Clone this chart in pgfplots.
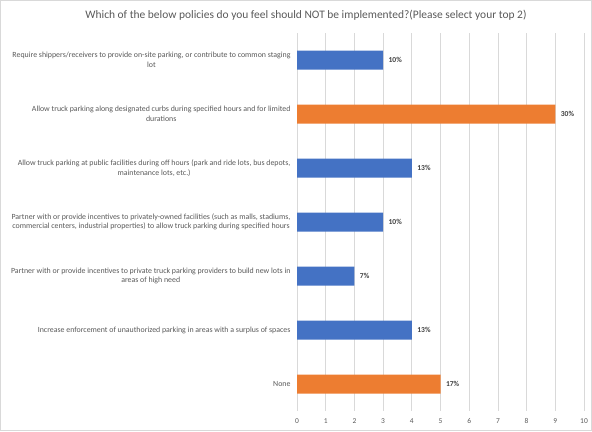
\documentclass[border=0pt]{standalone}
\usepackage{fontspec}
\setmainfont{Carlito}
\usepackage{pgfplots}
\pgfplotsset{compat=1.18}
\definecolor{barblue}{HTML}{4472C4}
\definecolor{barorange}{HTML}{ED7D31}
\definecolor{txtgray}{HTML}{595959}
\definecolor{lblgray}{HTML}{404040}
\definecolor{gridgray}{HTML}{D9D9D9}
\begin{document}
\begin{tikzpicture}[x=1bp,y=1bp]
\draw[gridgray, line width=0.6bp] (0.3,0.3) rectangle (591.7,430.7);
\useasboundingbox (0,0) rectangle (592,431);
\node[font=\fontsize{11.5}{13}\selectfont, text=txtgray] at (306,416) {Which of the below policies do you feel should NOT be implemented?(Please select your top 2)};
\begin{axis}[
  at={(297bp,20bp)}, anchor=south west,
  scale only axis, width=287bp, height=378bp,
  xmin=0, xmax=10, ymin=-0.5, ymax=6.5, y dir=reverse,
  xbar, bar width=19bp, bar shift=0pt,
  xtick={0,1,...,10}, ytick={0,1,...,6},
  yticklabels={
    {Require shippers/receivers to provide on-site parking, or contribute to common staging\\lot},
    {Allow truck parking along designated curbs during specified hours and for limited\\durations},
    {Allow truck parking at public facilities during off hours (park and ride lots, bus depots,\\maintenance lots, etc.)},
    {Partner with or provide incentives to privately-owned facilities (such as malls, stadiums,\\commercial centers, industrial properties) to allow truck parking during specified hours},
    {Partner with or provide incentives to private truck parking providers to build new lots in\\areas of high need},
    {Increase enforcement of unauthorized parking in areas with a surplus of spaces},
    {None}},
  xmajorgrids, grid style={gridgray, line width=0.7bp},
  axis line style={draw=none}, major tick length=0pt,
  /pgf/number format/assume math mode=true,
  tick label style={font=\fontsize{7.5}{9}\selectfont, text=txtgray},
  yticklabel style={font=\fontsize{7.9}{9.6}\selectfont, align=center, xshift=-3bp},
  xticklabel style={yshift=-4bp},
  nodes near coords={\pgfmathprintnumber{\pgfplotspointmeta}\%},
  nodes near coords style={font=\bfseries\fontsize{7.6}{8.5}\selectfont, text=lblgray, anchor=west, xshift=2bp},
  point meta=explicit,
]
\addplot[fill=barblue, draw=none] table[x=v, y=c, meta=p] {
v c p
3 0 10
4 2 13
3 3 10
2 4 7
4 5 13
};
\addplot[fill=barorange, draw=none] table[x=v, y=c, meta=p] {
v c p
9 1 30
5 6 17
};
\end{axis}
\end{tikzpicture}
\end{document}
